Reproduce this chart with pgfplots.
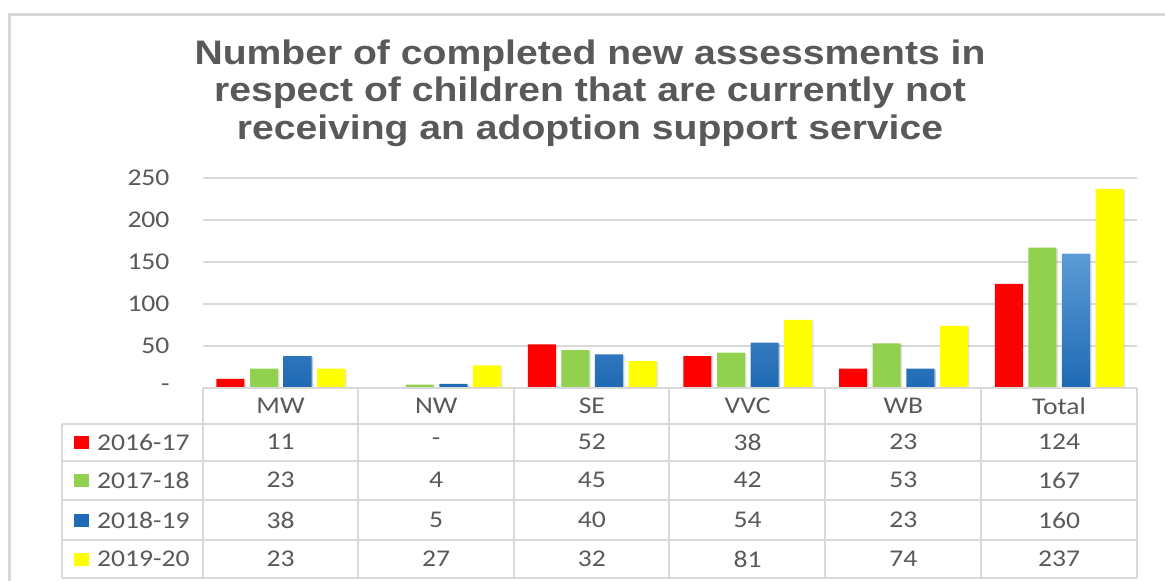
\documentclass[border=0pt]{standalone}
\usepackage{fontspec}
\setmainfont{Carlito}[FakeStretch=1.15]
\newfontfamily\titlefont{Liberation Sans}[FakeStretch=1.15]
\usepackage{pgfplots}
\pgfplotsset{compat=1.18}
\usepackage{pgfplotstable}
\usetikzlibrary{shadows}

\definecolor{txt}{HTML}{595959}
\definecolor{gridc}{HTML}{D9D9D9}
\definecolor{cRed}{HTML}{FF0000}
\definecolor{cGreen}{HTML}{92D050}
\definecolor{cBlueTop}{HTML}{5B9BD5}
\definecolor{cBlueBot}{HTML}{1F6AB4}
\definecolor{cYellow}{HTML}{FFFF00}

% x = category position (MW, NW, SE, VVC, WB, Total)
\pgfplotstableread{
x    a    b    c    d
0.5  11   23   38   23
1.5  nan  4    5    27
2.5  52   45   40   32
3.5  38   42   54   81
4.5  23   53   23   74
5.5  124  167  160  237
}\assessments

\newcommand{\cellfont}{\fontsize{24}{24}\selectfont\color{txt}}
\tikzset{barshadow/.style={drop shadow={opacity=0.22, shadow xshift=1.5pt, shadow yshift=-1pt}}}

\begin{document}
\begin{tikzpicture}
\begin{axis}[
    at={(203pt,193pt)}, anchor=south west,
    scale only axis, width=934pt, height=210pt,
    xmin=0, xmax=6, ymin=0, ymax=250,
    xtick=\empty,
    ytick={0,50,100,150,200,250},
    yticklabels={{-\hspace{13pt}},50,100,150,200,250},
    yticklabel style={font=\cellfont, xshift=-30pt},
    ymajorgrids, grid style={gridc, line width=1.5pt},
    axis line style={draw=none}, major tick length=0pt,
    ybar=5.6pt, bar width=28pt,
    clip=false,
]
\addplot[draw=none, fill=cRed, barshadow] table[x=x, y=a] {\assessments};
\addplot[draw=none, fill=cGreen, barshadow] table[x=x, y=b] {\assessments};
\addplot[draw=none, top color=cBlueTop, bottom color=cBlueBot, barshadow] table[x=x, y=c] {\assessments};
\addplot[draw=none, fill=cYellow, barshadow] table[x=x, y=d] {\assessments};
\end{axis}

\begin{scope}[x=1pt,y=1pt]
\path[use as bounding box] (0,0) rectangle (1165,581);
% outer chart frame (cut off right and bottom)
\draw[gridc, line width=3pt] (9.5,0) -- (9.5,566.5) -- (1166,566.5);

\node[align=center, font=\titlefont\bfseries\fontsize{34}{37.5}\selectfont, text=txt]
  at (590,488) {Number of completed new assessments in\\respect of children that are currently not\\receiving an adoption support service};

% data table
\begin{scope}[gridc, line width=2pt]
  \draw (203,193) -- (1137,193);
  \foreach \yy in {157,120,81,41,3} \draw (62,\yy) -- (1137,\yy);
  \foreach \xx in {203,358,514,669,825,981,1137} \draw (\xx,3) -- (\xx,193);
  \draw (62,3) -- (62,157);
\end{scope}

\foreach \name [count=\i from 0] in {MW,NW,SE,VVC,WB,Total}
  \node[font=\cellfont] at ({280.5+155.7*\i},175) {\name};

\foreach \yr/\col/\yy/\vals in {
    2016-17/cRed/139/{11,-,52,38,23,124},
    2017-18/cGreen/101/{23,4,45,42,53,167},
    2018-19/cBlueBot/61/{38,5,40,54,23,160},
    2019-20/cYellow/22/{23,27,32,81,74,237}}{
  \fill[\col] (74,\yy-7) rectangle (89,\yy+6);
  \node[font=\cellfont, anchor=west, inner sep=0pt] at (97,\yy) {\yr};
  \foreach \v [count=\i from 0] in \vals
    \node[font=\cellfont] at ({280.5+155.7*\i},\yy) {\v};
}
\end{scope}
\end{tikzpicture}
\end{document}
